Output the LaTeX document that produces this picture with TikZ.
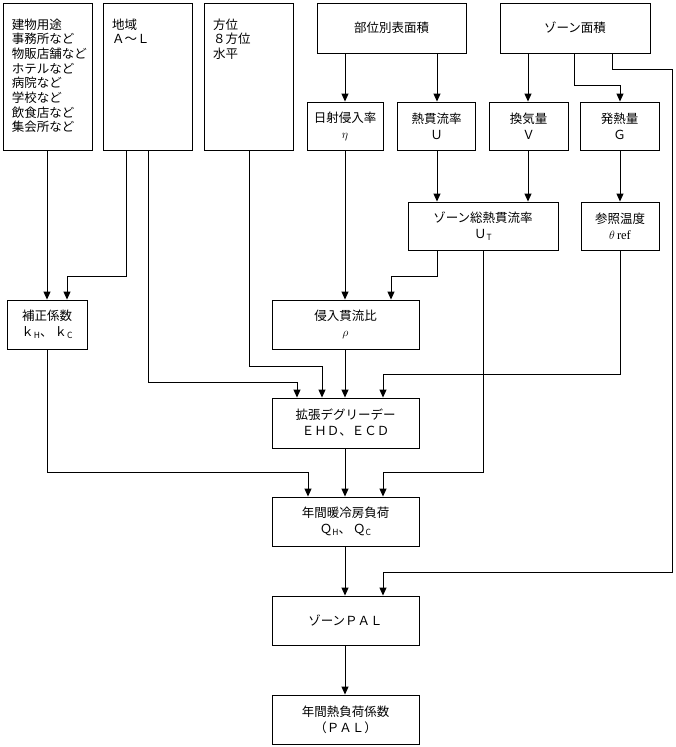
\documentclass[tikz,border=0pt]{standalone}
\usepackage{fontspec}
\setmainfont{Noto Sans CJK JP}
\newfontfamily\lserif{Liberation Serif}
\usetikzlibrary{arrows.meta}
\newcommand{\subsc}[1]{\raisebox{-1.5pt}{\fontsize{8.5}{9}\selectfont #1}}
\newcommand{\topleftbox}[3]{\parbox[c][#1][t]{#2}{\fontsize{12.5}{14.7}\selectfont\raggedright\vspace*{15.5pt}#3}}
\begin{document}
\begin{tikzpicture}[x=1pt,y=-1pt,
  box/.style={draw, line width=0.9pt, inner sep=0pt, align=center, font=\fontsize{12.5}{16}\selectfont},
  tbox/.style={draw, line width=0.9pt, inner sep=0pt},
  arr/.style={line width=0.9pt, -{Triangle[width=7pt,length=8pt]}}]
\useasboundingbox (0,0) rectangle (675,747);
% top row
\node[tbox, minimum width=89pt, minimum height=147pt] (b1) at (47.5,76.5)
  {\topleftbox{147pt}{71pt}{建物用途\\事務所など\\物販店舗など\\ホテルなど\\病院など\\学校など\\飲食店など\\集会所など}};
\node[tbox, minimum width=89pt, minimum height=147pt] (b2) at (147.5,76.5)
  {\topleftbox{147pt}{71pt}{地域\\Ａ～Ｌ}};
\node[tbox, minimum width=89pt, minimum height=147pt] (b3) at (248.5,76.5)
  {\topleftbox{147pt}{71pt}{方位\\８方位\\水平}};
\node[box, minimum width=149pt, minimum height=50pt] (b4) at (391.5,28) {部位別表面積};
\node[box, minimum width=150pt, minimum height=50pt] (b5) at (575,28) {ゾーン面積};
% second row
\node[box, minimum width=76pt, minimum height=48pt] (b6) at (345,126) {日射侵入率\\$\eta$};
\node[box, minimum width=78pt, minimum height=48pt] (b7) at (436.5,126) {熱貫流率\\Ｕ};
\node[box, minimum width=79pt, minimum height=48pt] (b8) at (528.5,126) {換気量\\Ｖ};
\node[box, minimum width=79pt, minimum height=48pt] (b9) at (619.5,126) {発熱量\\Ｇ};
% third row
\node[box, minimum width=150pt, minimum height=48pt] (b10) at (483,226) {ゾーン総熱貫流率\\Ｕ\subsc{T}};
\node[box, minimum width=78pt, minimum height=48pt] (b11) at (620,226) {参照温度\\$\theta${\lserif\,ref}};
% fourth row
\node[box, minimum width=80pt, minimum height=49pt] (b12) at (47,324.5) {補正係数\\ｋ\subsc{H}、\,ｋ\subsc{C}};
\node[box, minimum width=147pt, minimum height=49pt] (b13) at (345.5,324.5) {侵入貫流比\\$\rho$};
% lower chain
\node[box, minimum width=147pt, minimum height=50pt] (b14) at (345.5,423) {拡張デグリーデー\\ＥＨＤ、ＥＣＤ};
\node[box, minimum width=147pt, minimum height=49pt] (b15) at (345.5,521.5) {年間暖冷房負荷\\Ｑ\subsc{H}、\,Ｑ\subsc{C}};
\node[box, minimum width=147pt, minimum height=49pt] (b16) at (345.5,620.5) {ゾーンＰＡＬ};
\node[box, minimum width=147pt, minimum height=49pt] (b17) at (345.5,719.5) {年間熱負荷係数\\（ＰＡＬ）};
% connectors
\draw[arr] (b6.north |- b4.south) -- (b6.north);
\draw[arr] (437,0 |- b4.south) -- (437,0 |- b7.north);
\draw[arr] (528,0 |- b5.south) -- (528,0 |- b8.north);
\draw[arr] (574,0 |- b5.south) -- (574,85) -| (620,0 |- b9.north);
\draw[arr] (612,0 |- b5.south) -- (612,69) -- (672,69) -- (672,572) -| (383,0 |- b16.north);
\draw[arr] (437,0 |- b7.south) -- (437,0 |- b10.north);
\draw[arr] (528,0 |- b8.south) -- (528,0 |- b10.north);
\draw[arr] (620,0 |- b9.south) -- (620,0 |- b11.north);
\draw[arr] (47,0 |- b1.south) -- (47,0 |- b12.north);
\draw[arr] (126,0 |- b2.south) -- (126,276) -| (67,0 |- b12.north);
\draw[arr] (148,0 |- b2.south) -- (148,382) -| (297,0 |- b14.north);
\draw[arr] (249,0 |- b3.south) -- (249,366) -| (322,0 |- b14.north);
\draw[arr] (345,0 |- b6.south) -- (345,0 |- b13.north);
\draw[arr] (437,0 |- b10.south) -- (437,276) -| (391,0 |- b13.north);
\draw[arr] (483,0 |- b10.south) -- (483,472) -| (383,0 |- b15.north);
\draw[arr] (620,0 |- b11.south) -- (620,374) -| (383,0 |- b14.north);
\draw[arr] (345,0 |- b13.south) -- (345,0 |- b14.north);
\draw[arr] (47,0 |- b12.south) -- (47,472) -| (308,0 |- b15.north);
\draw[arr] (345,0 |- b14.south) -- (345,0 |- b15.north);
\draw[arr] (345,0 |- b15.south) -- (345,0 |- b16.north);
\draw[arr] (345,0 |- b16.south) -- (345,0 |- b17.north);
\end{tikzpicture}
\end{document}
